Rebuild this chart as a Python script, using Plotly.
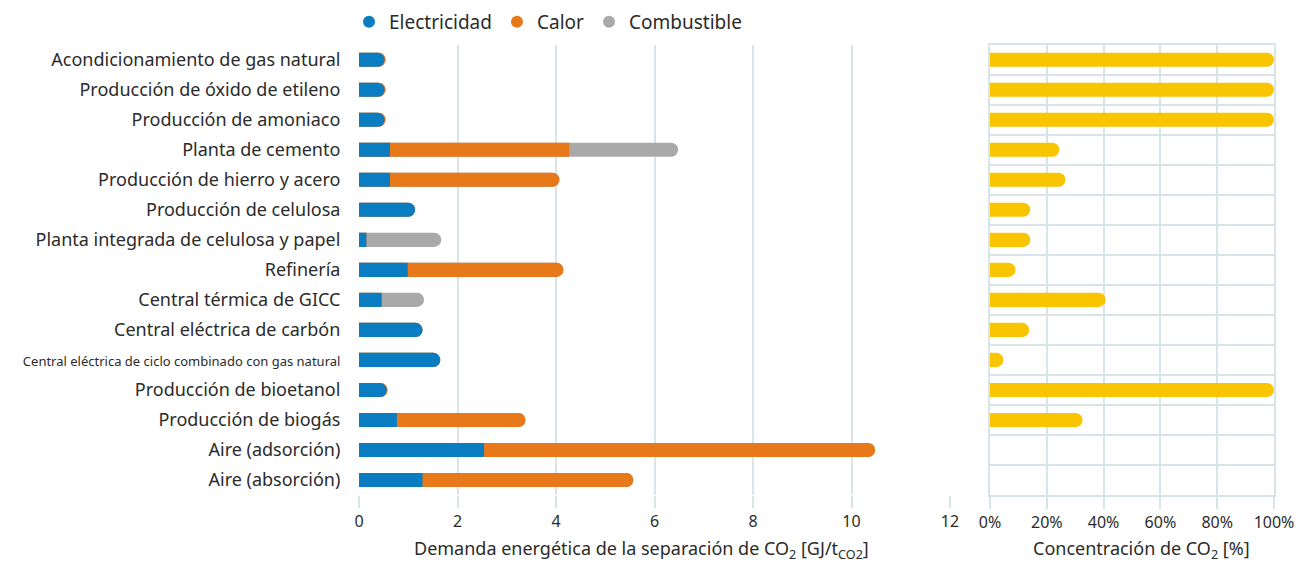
import plotly.graph_objects as go
import numpy as np

categories = [
    "Acondicionamiento de gas natural",
    "Producción de óxido de etileno",
    "Producción de amoniaco",
    "Planta de cemento",
    "Producción de hierro y acero",
    "Producción de celulosa",
    "Planta integrada de celulosa y papel",
    "Refinería",
    "Central térmica de GICC",
    "Central eléctrica de carbón",
    "Central eléctrica de ciclo combinado con gas natural",
    "Producción de bioetanol",
    "Producción de biogás",
    "Aire (adsorción)",
    "Aire (absorción)",
]
electricidad = [0.52, 0.52, 0.52, 0.63, 0.63, 1.14, 0.15, 0.99, 0.46, 1.29, 1.65, 0.52, 0.77, 2.54, 1.29]
calor        = [0.02, 0.02, 0.02, 3.64, 3.44, 0.00, 0.00, 3.16, 0.00, 0.00, 0.00, 0.06, 2.61, 7.94, 4.28]
combustible  = [0.00, 0.00, 0.00, 2.21, 0.00, 0.00, 1.52, 0.00, 0.86, 0.00, 0.00, 0.00, 0.00, 0.00, 0.00]
concentracion = [100, 100, 100, 24.4, 26.6, 14.2, 14.2, 9.0, 40.7, 13.8, 4.7, 100, 32.6, None, None]
x_ticks = [0, 2, 4, 6, 8, 10, 12]
pct_ticks = [0, 20, 40, 60, 80, 100]
pct_labels = ["0%", "20%", "40%", "60%", "80%", "100%"]

W, H = 1307, 565
def px(x): return x / W
def py(y): return 1 - y / H

BLUE = '#0a7dc2'; ORANGE = '#e8791a'; GRAY = '#a9a9a9'; YELLOW = '#f8c500'
GRID = '#d8e4e7'; TXT = '#2b2b2b'
FONT = 'Noto Sans'

e = np.array(electricidad); h = np.array(calor); c = np.array(combustible)
ypos = list(range(len(categories)))

fig = go.Figure()
for vals, col in [(e + h + c, GRAY), (e + h, ORANGE), (e, BLUE)]:
    fig.add_bar(x=vals, y=ypos, orientation='h', width=0.47,
                marker=dict(color=col, cornerradius='50%', line_width=0),
                showlegend=False, xaxis='x', yaxis='y', hoverinfo='skip')

for name, col in [('Electricidad', BLUE), ('Calor', ORANGE), ('Combustible', GRAY)]:
    fig.add_scatter(x=[None], y=[None], mode='markers', name=name,
                    marker=dict(color=col, size=12, symbol='circle'), xaxis='x', yaxis='y')

fig.add_bar(x=concentracion, y=ypos, orientation='h', width=0.47,
            marker=dict(color=YELLOW, cornerradius='50%', line_width=0),
            showlegend=False, xaxis='x2', yaxis='y2', hoverinfo='skip')

ydom = [py(495), py(44.7)]
fig.update_layout(
    width=W, height=H, autosize=False, margin=dict(l=0, r=0, t=0, b=0, autoexpand=False),
    paper_bgcolor='white', plot_bgcolor='white',
    font=dict(family=FONT, size=16, color=TXT),
    barmode='overlay',
    showlegend=True,
    legend=dict(orientation='h', x=px(349), y=py(3), xanchor='left', yanchor='top',
                font=dict(size=19, color=TXT), itemwidth=30, traceorder='normal'),
    xaxis=dict(domain=[px(359), px(950)], range=[0, 12], tickvals=x_ticks,
               showgrid=True, gridcolor=GRID, gridwidth=2, zeroline=False,
               ticks='outside', ticklen=12, tickcolor=GRID, tickwidth=2, automargin=False,
               tickfont=dict(size=16), anchor='y', showline=False),
    yaxis=dict(domain=ydom, range=[len(categories) - 0.5, -0.5],
               tickvals=ypos, automargin=False,
               ticktext=[('<span style="font-size:13px">%s</span>' % t) if len(t) > 40 else t for t in categories],
               ticks='outside', ticklen=14, tickcolor='rgba(0,0,0,0)',
               showgrid=False, zeroline=False, tickfont=dict(size=18), anchor='x'),
    xaxis2=dict(domain=[px(990), px(1274)], range=[0, 100], tickvals=pct_ticks, ticktext=pct_labels,
                showgrid=True, gridcolor=GRID, gridwidth=2, zeroline=False, automargin=False,
                ticks='outside', ticklen=12, tickcolor=GRID, tickwidth=2,
                showline=True, mirror=True, linecolor=GRID, linewidth=2,
                tickfont=dict(size=16), anchor='y2'),
    yaxis2=dict(domain=ydom, range=[len(categories) - 0.5, -0.5],
                tickvals=[i - 0.5 for i in range(len(categories) + 1)], automargin=False,
                showticklabels=False, showgrid=True, gridcolor=GRID, gridwidth=2,
                zeroline=False, showline=True, mirror=True, linecolor=GRID, linewidth=2,
                anchor='x2'),
    annotations=[
        dict(text='Demanda energética de la separación de CO<sub>2</sub> [GJ/t<sub>CO2</sub>]',
             x=px(641), y=py(549), xref='paper', yref='paper', showarrow=False,
             xanchor='center', yanchor='middle', font=dict(size=18, color=TXT)),
        dict(text='Concentración de CO<sub>2</sub> [%]',
             x=px(1141), y=py(549), xref='paper', yref='paper', showarrow=False,
             xanchor='center', yanchor='middle', font=dict(size=18, color=TXT)),
    ],
)

post = ("document.body.style.margin='0';document.body.style.overflow='hidden';"
        "var gd=document.getElementById('{plot_id}');"
        "Plotly.relayout(gd,{width:1307,height:565});")
fig.write_html("out.html", config={'responsive': False, 'displayModeBar': False}, post_script=post)
